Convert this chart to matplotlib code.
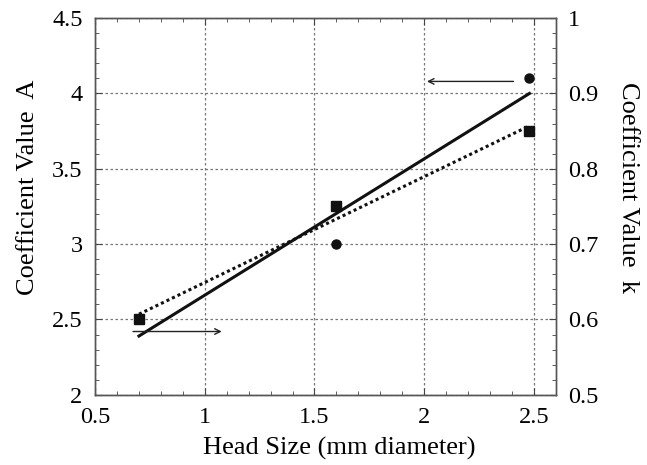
import matplotlib
matplotlib.use("Agg")
import matplotlib.pyplot as plt
from matplotlib.ticker import MultipleLocator

plt.rcParams['font.family'] = ['Liberation Serif', 'DejaVu Serif']

# head size (mm) and measured coefficients
head_size = [0.7, 1.6, 2.48]
coef_A = [2.5, 3.0, 4.1]
coef_k = [0.6, 0.75, 0.85]

# fitted lines (end points)
fit_x = [0.7, 2.48]
fit_A = [2.39, 4.0]
fit_k = [0.607, 0.857]

fig = plt.figure(figsize=(6.47, 4.65), dpi=100)
ax = fig.add_axes([0.147, 0.151, 0.712, 0.810])
ax2 = ax.twinx()

ax.plot(fit_x, fit_A, color='#111111', linewidth=2.2, zorder=3)
ax.plot(head_size, coef_A, 'o', color='#111111', markersize=6.5, zorder=4)
ax2.plot(fit_x, fit_k, color='#111111', linewidth=2.2, linestyle=(0, (1, 1)), zorder=3)
ax2.plot(head_size, coef_k, 's', color='#111111', markersize=7.5, zorder=4)

# arrows pointing to the axis each series belongs to
ax.annotate('', xy=(1.09, 2.42), xytext=(0.66, 2.42),
            arrowprops=dict(arrowstyle='->', color='#222222', lw=1.0))
ax.annotate('', xy=(2.0, 4.08), xytext=(2.42, 4.08),
            arrowprops=dict(arrowstyle='->', color='#222222', lw=1.0))

ax.set_xlim(0.5, 2.6)
ax.set_ylim(2, 4.5)
ax2.set_ylim(0.5, 1.0)

ax.xaxis.set_minor_locator(MultipleLocator(0.1))
ax.yaxis.set_minor_locator(MultipleLocator(0.1))
ax2.yaxis.set_minor_locator(MultipleLocator(0.02))
ax.set_xticks([0.5, 1, 1.5, 2, 2.5])
ax.set_xticklabels(['0.5', '1', '1.5', '2', '2.5'])
ax.set_yticks([2, 2.5, 3, 3.5, 4, 4.5])
ax.set_yticklabels(['2', '2.5', '3', '3.5', '4', '4.5'])
ax2.set_yticks([0.5, 0.6, 0.7, 0.8, 0.9, 1.0])
ax2.set_yticklabels(['0.5', '0.6', '0.7', '0.8', '0.9', '1'])

ax.tick_params(axis='both', which='both', direction='in', top=True, labelsize=17.5,
               color='#444444', pad=9)
ax.tick_params(axis='y', which='both', right=False)
ax.tick_params(which='major', length=5)
ax.tick_params(which='minor', length=3)
ax2.tick_params(axis='y', which='both', direction='in', labelsize=17.5, color='#444444', pad=9)
ax2.tick_params(which='major', length=5)
ax2.tick_params(which='minor', length=3)

ax.grid(True, which='major', linestyle=(0, (2, 2)), color='#777777', linewidth=0.9)
for a in (ax, ax2):
    for s in a.spines.values():
        s.set_color('#555555')
        s.set_linewidth(1.0)

ax.set_xlabel('Head Size (mm diameter)', fontsize=19)
ax.set_ylabel('Coefficient Value  A', fontsize=19)
ax2.set_ylabel('Coefficient Value  k', fontsize=19, rotation=270)
ax.xaxis.set_label_coords(0.53, -0.113)
ax.yaxis.set_label_coords(-0.122, 0.55)
ax2.yaxis.set_label_coords(1.181, 0.55)

fig.savefig('out.png', dpi=100)
